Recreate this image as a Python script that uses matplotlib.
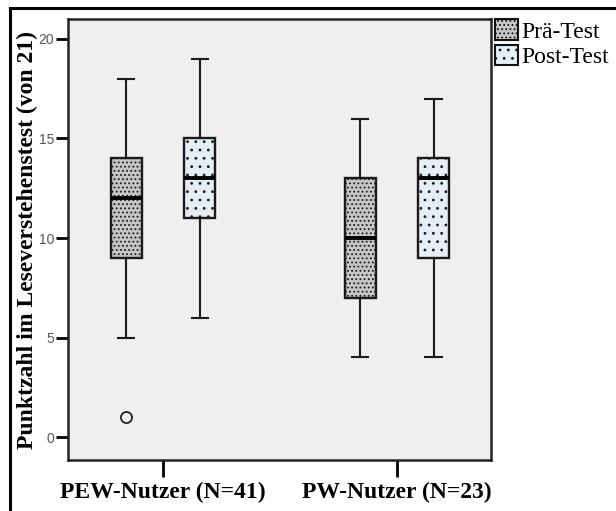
import matplotlib.pyplot as plt
from matplotlib.lines import Line2D
from matplotlib.patches import Patch

# Boxplot-Kennwerte
gruppen = ['PEW-Nutzer (N=41)', 'PW-Nutzer (N=23)']
tests = ['Prä-Test', 'Post-Test']
# Reihenfolge: PEW Prä, PEW Post, PW Prä, PW Post
whis_unten = [5, 6, 4, 4]
q1 = [9, 11, 7, 9]
median = [12, 13, 10, 13]
q3 = [14, 15, 13, 14]
whis_oben = [18, 19, 16, 17]
ausreisser = [[1], [], [], []]
y_ticks = [0, 5, 10, 15, 20]

farben = ['#c6c6c6', '#e4edf8']
muster = ['....', '..']

plt.rcParams['hatch.linewidth'] = 0.8
plt.rcParams['hatch.color'] = '#111111'

fig = plt.figure(figsize=(6.16, 5.11), dpi=100)
ax = fig.add_axes([68/616, 1 - 460/511, (491-68)/616, (460-19)/511])
ax.set_facecolor('#efefef')

stats = []
for i in range(4):
    stats.append({'med': median[i], 'q1': q1[i], 'q3': q3[i],
                  'whislo': whis_unten[i], 'whishi': whis_oben[i],
                  'fliers': ausreisser[i]})

versatz = 0.157
positionen = []
for g in range(len(gruppen)):
    positionen += [g - versatz, g + versatz]

bp = ax.bxp(stats, positions=positionen, widths=0.132, patch_artist=True,
            boxprops=dict(linewidth=1.7, edgecolor='#1a1a1a'),
            medianprops=dict(color='black', linewidth=2.8),
            whiskerprops=dict(color='#1a1a1a', linewidth=1.5),
            capprops=dict(color='#1a1a1a', linewidth=1.5),
            capwidths=0.07,
            flierprops=dict(marker='o', markersize=8, markerfacecolor='none',
                            markeredgecolor='#222222', markeredgewidth=1.3))
for i, box in enumerate(bp['boxes']):
    box.set_facecolor(farben[i % 2])
    box.set_hatch(muster[i % 2])

ax.set_xlim(-0.406, 1.402)
ax.set_ylim(-1.15, 21.0)
ax.set_xticks(range(len(gruppen)))
ax.set_xticklabels(gruppen, family='Liberation Serif', fontweight='bold', fontsize=17)
ax.set_yticks(y_ticks)
ax.set_yticklabels([str(t) for t in y_ticks], family='Liberation Sans', fontsize=10, color='#555555')
ax.tick_params(axis='y', length=9, width=2, pad=1)
ax.tick_params(axis='x', length=12, width=2, pad=4)
for s in ax.spines.values():
    s.set_linewidth(1.8)
    s.set_color('#222222')

ax.set_ylabel('Punktzahl im Leseverstehenstest (von 21)', family='Liberation Serif',
              fontweight='bold', fontsize=17, labelpad=0)

handles = [Patch(facecolor=farben[k], edgecolor='#111111', hatch=muster[k], linewidth=1.5)
           for k in range(2)]
fig.legend(handles, tests, loc='upper left', bbox_to_anchor=(493/616, 1 - 17/511),
           frameon=False, prop={'family': 'Liberation Serif', 'size': 17},
           handlelength=0.95, handleheight=0.95, handletextpad=0.15, labelspacing=0.08,
           borderaxespad=0, borderpad=0.1)

# Rahmen oben und links
fig.add_artist(Line2D([10/616, 10/616], [0, 1 - 8/511], transform=fig.transFigure,
                      color='black', linewidth=2.2))
fig.add_artist(Line2D([10/616, 1], [1 - 8/511, 1 - 8/511], transform=fig.transFigure,
                      color='black', linewidth=2.2))

fig.savefig('out.png', dpi=100)
